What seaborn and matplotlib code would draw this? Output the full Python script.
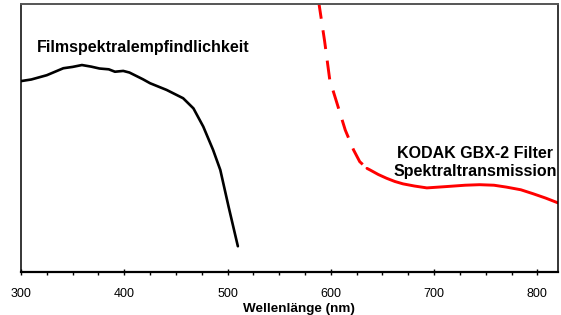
import matplotlib
matplotlib.use("Agg")
import matplotlib.pyplot as plt
from matplotlib.ticker import MultipleLocator
import seaborn as sns
import numpy as np

# Filmspektralempfindlichkeit (black curve), arbitrary units 0-100
film_wl = [300, 310, 325, 341, 350, 359, 368, 376, 385, 391, 399, 405, 418, 425, 441, 457, 467, 476.5, 486, 493, 501, 510]
film_sens = [71.2, 71.8, 73.4, 76.0, 76.5, 77.2, 76.6, 75.9, 75.6, 74.7, 75.0, 74.4, 71.9, 70.4, 67.9, 64.8, 61.0, 54.2, 45.5, 38.0, 24.3, 9.5]

# KODAK GBX-2 filter transmission (red curve), dashed below ~635 nm
filter_wl = [588, 594, 599, 606, 614, 622, 628, 635, 638, 646, 654, 662, 670, 681, 693, 712, 730, 744, 758, 770, 784, 796, 808, 820]
filter_trans = [101.5, 86.1, 71.6, 62.9, 52.9, 45.5, 41.1, 38.6, 38.0, 36.3, 34.9, 33.7, 32.8, 32.0, 31.3, 31.8, 32.3, 32.5, 32.3, 31.6, 30.6, 29.1, 27.5, 25.7]
dash_end = 635

sns.set_style("white")
plt.rcParams['font.family'] = ['Liberation Sans', 'DejaVu Sans']
plt.rcParams['text.color'] = 'black'
plt.rcParams['xtick.color'] = 'black'
plt.rcParams['axes.labelcolor'] = 'black'

fig = plt.figure(figsize=(5.61, 3.15), dpi=100)
ax = fig.add_axes([0.0374, 0.1375, 0.9573, 0.8498])

sns.lineplot(x=film_wl, y=film_sens, ax=ax, color='black', lw=1.9)

fw = np.array(filter_wl)
ft = np.array(filter_trans)
dashed = fw <= dash_end
solid = fw >= dash_end
sns.lineplot(x=fw[dashed], y=ft[dashed], ax=ax, color='#ff0000', lw=2.1,
             dashes=False, linestyle=(0, (6.5, 4)))
sns.lineplot(x=fw[solid], y=ft[solid], ax=ax, color='#ff0000', lw=2.1)

ax.set_xlim(300, 820)
ax.set_ylim(0, 100)
ax.set_yticks([])
ax.xaxis.set_major_locator(MultipleLocator(100))
ax.xaxis.set_minor_locator(MultipleLocator(25))
ax.tick_params(axis='x', which='major', direction='inout', length=5, width=1,
               color='black', labelcolor='black', labelsize=9, pad=9, bottom=True)
ax.tick_params(axis='x', which='minor', direction='out', length=2.2, width=1,
               color='black', bottom=True)

for side in ['left', 'right']:
    ax.spines[side].set_color('black')
    ax.spines[side].set_linewidth(1.1)
ax.spines['bottom'].set_color('black')
ax.spines['bottom'].set_linewidth(1.6)
ax.spines['top'].set_color('#555555')
ax.spines['top'].set_linewidth(1.4)

# keep the axis title fully inside the picture
ax.set_xlabel('Wellenlänge (nm)', fontsize=9.7, fontweight='bold', color='black')
ax.xaxis.set_label_coords(0.518, -0.138)
ax.xaxis.label.set_va('center')

ax.text(418, 83.6, 'Filmspektralempfindlichkeit', fontsize=11.5,
        fontweight='bold', ha='center', va='center', color='black')
ax.text(739.5, 40.8, 'KODAK GBX-2 Filter\nSpektraltransmission', fontsize=11.5,
        fontweight='bold', ha='center', va='center', linespacing=1.2, color='black')

fig.savefig('out.png', dpi=100)
